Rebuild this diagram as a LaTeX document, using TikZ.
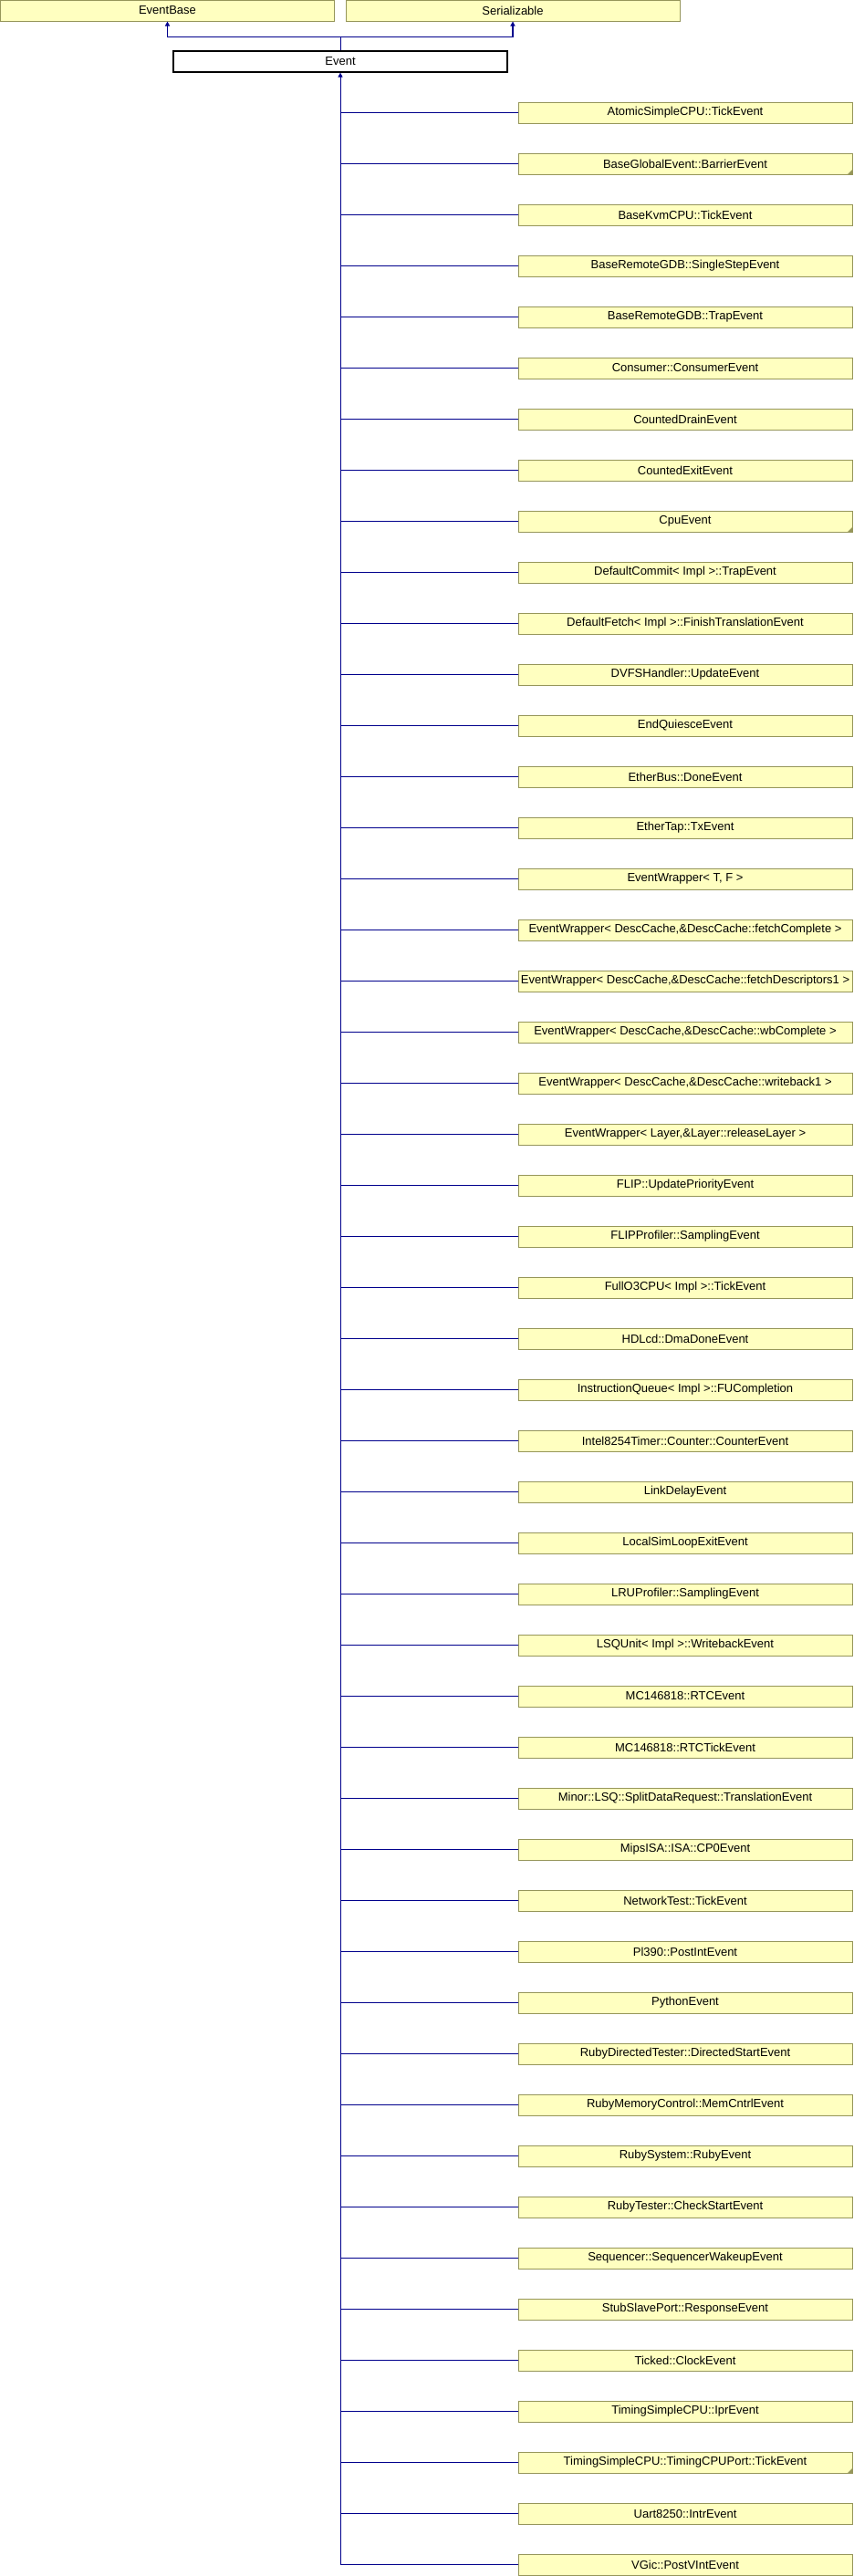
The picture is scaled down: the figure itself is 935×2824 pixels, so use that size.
\documentclass[tikz,border=0pt]{standalone}
\usepackage{fontspec}
\setmainfont{Liberation Sans}
\usepackage{tikz}
\usetikzlibrary{arrows.meta, positioning}
\definecolor{boxfill}{RGB}{255,255,192}
\definecolor{boxline}{RGB}{150,150,90}
\definecolor{inherit}{RGB}{0,0,140}

\begin{document}
\begin{tikzpicture}[x=1pt, y=-1pt,
        cls/.style={draw=boxline, fill=boxfill, line width=1pt, minimum width=366pt, minimum height=23pt, inner sep=0pt, font=\fontsize{13}{15}\selectfont},
        cur/.style={cls, draw=black, fill=white, line width=1.2pt},
        link/.style={draw=inherit, line width=1.3pt},
        up/.style={link, -{Triangle[length=5pt, width=5pt]}},
        more/.style={fill=boxline}]
                        \useasboundingbox (0, 0) rectangle (935, 2824);

                        \node[cls] (base) at (183.5, 11.5) {EventBase};
                        \node[cls] (ser) at (562, 11.5) {Serializable};
                        \node[cur] (event) at (373, 67.5) {Event};

                        \node[cls] (c1) at (751, 123.5) {AtomicSimpleCPU::TickEvent};
                        \node[cls] (c2) at (751, 179.5) {BaseGlobalEvent::BarrierEvent};
                        \node[cls] (c3) at (751, 235.5) {BaseKvmCPU::TickEvent};
                        \node[cls] (c4) at (751, 291.5) {BaseRemoteGDB::SingleStepEvent};
                        \node[cls] (c5) at (751, 347.5) {BaseRemoteGDB::TrapEvent};
                        \node[cls] (c6) at (751, 403.5) {Consumer::ConsumerEvent};
                        \node[cls] (c7) at (751, 459.5) {CountedDrainEvent};
                        \node[cls] (c8) at (751, 515.5) {CountedExitEvent};
                        \node[cls] (c9) at (751, 571.5) {CpuEvent};
                        \node[cls] (c10) at (751, 627.5) {DefaultCommit< Impl >::TrapEvent};
                        \node[cls] (c11) at (751, 683.5) {DefaultFetch< Impl >::FinishTranslationEvent};
                        \node[cls] (c12) at (751, 739.5) {DVFSHandler::UpdateEvent};
                        \node[cls] (c13) at (751, 795.5) {EndQuiesceEvent};
                        \node[cls] (c14) at (751, 851.5) {EtherBus::DoneEvent};
                        \node[cls] (c15) at (751, 907.5) {EtherTap::TxEvent};
                        \node[cls] (c16) at (751, 963.5) {EventWrapper< T, F >};
                        \node[cls] (c17) at (751, 1019.5) {EventWrapper< DescCache,\&DescCache::fetchComplete >};
                        \node[cls] (c18) at (751, 1075.5) {EventWrapper< DescCache,\&DescCache::fetchDescriptors1 >};
                        \node[cls] (c19) at (751, 1131.5) {EventWrapper< DescCache,\&DescCache::wbComplete >};
                        \node[cls] (c20) at (751, 1187.5) {EventWrapper< DescCache,\&DescCache::writeback1 >};
                        \node[cls] (c21) at (751, 1243.5) {EventWrapper< Layer,\&Layer::releaseLayer >};
                        \node[cls] (c22) at (751, 1299.5) {FLIP::UpdatePriorityEvent};
                        \node[cls] (c23) at (751, 1355.5) {FLIPProfiler::SamplingEvent};
                        \node[cls] (c24) at (751, 1411.5) {FullO3CPU< Impl >::TickEvent};
                        \node[cls] (c25) at (751, 1467.5) {HDLcd::DmaDoneEvent};
                        \node[cls] (c26) at (751, 1523.5) {InstructionQueue< Impl >::FUCompletion};
                        \node[cls] (c27) at (751, 1579.5) {Intel8254Timer::Counter::CounterEvent};
                        \node[cls] (c28) at (751, 1635.5) {LinkDelayEvent};
                        \node[cls] (c29) at (751, 1691.5) {LocalSimLoopExitEvent};
                        \node[cls] (c30) at (751, 1747.5) {LRUProfiler::SamplingEvent};
                        \node[cls] (c31) at (751, 1803.5) {LSQUnit< Impl >::WritebackEvent};
                        \node[cls] (c32) at (751, 1859.5) {MC146818::RTCEvent};
                        \node[cls] (c33) at (751, 1915.5) {MC146818::RTCTickEvent};
                        \node[cls] (c34) at (751, 1971.5) {Minor::LSQ::SplitDataRequest::TranslationEvent};
                        \node[cls] (c35) at (751, 2027.5) {MipsISA::ISA::CP0Event};
                        \node[cls] (c36) at (751, 2083.5) {NetworkTest::TickEvent};
                        \node[cls] (c37) at (751, 2139.5) {Pl390::PostIntEvent};
                        \node[cls] (c38) at (751, 2195.5) {PythonEvent};
                        \node[cls] (c39) at (751, 2251.5) {RubyDirectedTester::DirectedStartEvent};
                        \node[cls] (c40) at (751, 2307.5) {RubyMemoryControl::MemCntrlEvent};
                        \node[cls] (c41) at (751, 2363.5) {RubySystem::RubyEvent};
                        \node[cls] (c42) at (751, 2419.5) {RubyTester::CheckStartEvent};
                        \node[cls] (c43) at (751, 2475.5) {Sequencer::SequencerWakeupEvent};
                        \node[cls] (c44) at (751, 2531.5) {StubSlavePort::ResponseEvent};
                        \node[cls] (c45) at (751, 2587.5) {Ticked::ClockEvent};
                        \node[cls] (c46) at (751, 2643.5) {TimingSimpleCPU::IprEvent};
                        \node[cls] (c47) at (751, 2699.5) {TimingSimpleCPU::TimingCPUPort::TickEvent};
                        \node[cls] (c48) at (751, 2755.5) {Uart8250::IntrEvent};
                        \node[cls] (c49) at (751, 2811.5) {VGic::PostVIntEvent};

                        \coordinate (join) at (373, 40.5);

                        \draw[link, line width=0.8pt] (event.north) -- (join);
                        \draw[up] (join) -| (base.south);
                        \draw[up] (join) -| (ser.south);
                        \draw[up, line width=0.8pt] (event.south |- c49.west) -- (event.south);

                        \draw[link]
                        (event.south |- c1.west) -- (c1.west)
                        (event.south |- c2.west) -- (c2.west)
                        (event.south |- c3.west) -- (c3.west)
                        (event.south |- c4.west) -- (c4.west)
                        (event.south |- c5.west) -- (c5.west)
                        (event.south |- c6.west) -- (c6.west)
                        (event.south |- c7.west) -- (c7.west)
                        (event.south |- c8.west) -- (c8.west)
                        (event.south |- c9.west) -- (c9.west)
                        (event.south |- c10.west) -- (c10.west)
                        (event.south |- c11.west) -- (c11.west)
                        (event.south |- c12.west) -- (c12.west)
                        (event.south |- c13.west) -- (c13.west)
                        (event.south |- c14.west) -- (c14.west)
                        (event.south |- c15.west) -- (c15.west)
                        (event.south |- c16.west) -- (c16.west)
                        (event.south |- c17.west) -- (c17.west)
                        (event.south |- c18.west) -- (c18.west)
                        (event.south |- c19.west) -- (c19.west)
                        (event.south |- c20.west) -- (c20.west)
                        (event.south |- c21.west) -- (c21.west)
                        (event.south |- c22.west) -- (c22.west)
                        (event.south |- c23.west) -- (c23.west)
                        (event.south |- c24.west) -- (c24.west)
                        (event.south |- c25.west) -- (c25.west)
                        (event.south |- c26.west) -- (c26.west)
                        (event.south |- c27.west) -- (c27.west)
                        (event.south |- c28.west) -- (c28.west)
                        (event.south |- c29.west) -- (c29.west)
                        (event.south |- c30.west) -- (c30.west)
                        (event.south |- c31.west) -- (c31.west)
                        (event.south |- c32.west) -- (c32.west)
                        (event.south |- c33.west) -- (c33.west)
                        (event.south |- c34.west) -- (c34.west)
                        (event.south |- c35.west) -- (c35.west)
                        (event.south |- c36.west) -- (c36.west)
                        (event.south |- c37.west) -- (c37.west)
                        (event.south |- c38.west) -- (c38.west)
                        (event.south |- c39.west) -- (c39.west)
                        (event.south |- c40.west) -- (c40.west)
                        (event.south |- c41.west) -- (c41.west)
                        (event.south |- c42.west) -- (c42.west)
                        (event.south |- c43.west) -- (c43.west)
                        (event.south |- c44.west) -- (c44.west)
                        (event.south |- c45.west) -- (c45.west)
                        (event.south |- c46.west) -- (c46.west)
                        (event.south |- c47.west) -- (c47.west)
                        (event.south |- c48.west) -- (c48.west)
                        (event.south |- c49.west) -- (c49.west);

                        \fill[more]
                        ([xshift=-6pt]c2.south east) -- (c2.south east) -- ([yshift=6pt]c2.south east) -- cycle
                        ([xshift=-6pt]c9.south east) -- (c9.south east) -- ([yshift=6pt]c9.south east) -- cycle
                        ([xshift=-6pt]c47.south east) -- (c47.south east) -- ([yshift=6pt]c47.south east) -- cycle;
                    \end{tikzpicture}
\end{document}
